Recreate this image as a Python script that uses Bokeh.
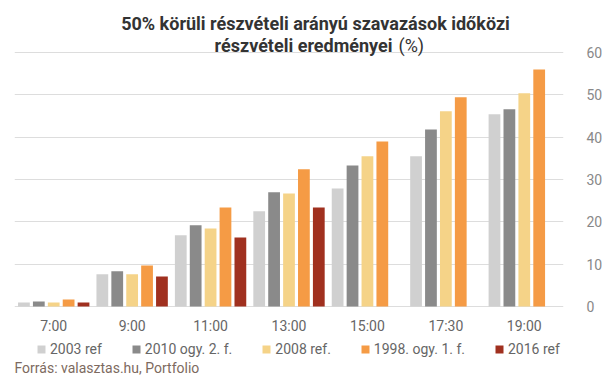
from bokeh.plotting import figure
from bokeh.models import (ColumnDataSource, FactorRange, Legend, LegendItem, Label,
                          LinearAxis, FixedTicker)
from bokeh.transform import dodge
from bokeh.embed import file_html
from bokeh.resources import INLINE

categories = ["7:00", "9:00", "11:00", "13:00", "15:00", "17:30", "19:00"]
ref2003 = [0.95, 7.6, 16.8, 22.5, 27.9, 35.5, 45.4]
ogy2010 = [1.2, 8.3, 19.2, 27.0, 33.3, 41.8, 46.6]
ref2008 = [0.95, 7.6, 18.4, 26.7, 35.5, 46.1, 50.4]
ogy1998 = [1.65, 9.7, 23.4, 32.4, 39.0, 49.4, 56.0]
cats2016 = ["7:00", "9:00", "11:00", "13:00"]
ref2016 = [0.95, 7.1, 16.3, 23.4]
y_ticks = [0, 10, 20, 30, 40, 50, 60]

series_names = ["2003 ref", "2010 ogy. 2. f.", "2008 ref.", "1998. ogy. 1. f.", "2016 ref"]
colors = ["#d0d0d0", "#8a8a8a", "#f5d388", "#f59b45", "#a0301f"]
title_line1 = "50% körüli részvételi arányú szavazások időközi"
title_line2 = "részvételi eredményei"
title_unit = "(%)"
source_text = "Forrás: valasztas.hu, Portfolio"

FONT = "Roboto"

# the plot frame covers the full canvas height; titles, legend and source live inside it
p = figure(x_range=FactorRange(*categories), y_range=(-17.01, 72.28),
           width=605, height=378, output_backend="svg", toolbar_location=None,
           min_border_left=14, min_border_right=40, min_border_top=0, min_border_bottom=0)
p.outline_line_color = None
p.background_fill_color = "white"
p.border_fill_color = "white"
p.title.visible = False

src = ColumnDataSource(dict(cat=categories, a=ref2003, b=ogy2010, c=ref2008, d=ogy1998))
src16 = ColumnDataSource(dict(cat=cats2016, e=ref2016))

pitch = 0.19
bw = 0.15
renderers = []
for i, col in enumerate(["a", "b", "c", "d"]):
    r = p.vbar(x=dodge("cat", (i - 2) * pitch, range=p.x_range), top=col, width=bw,
               source=src, color=colors[i], line_color=None)
    renderers.append(r)
r = p.vbar(x=dodge("cat", 2 * pitch, range=p.x_range), top="e", width=bw,
           source=src16, color=colors[4], line_color=None)
renderers.append(r)

# axes
p.yaxis.visible = False
p.xaxis.fixed_location = 0
p.xaxis.axis_line_color = None
p.xaxis.major_tick_line_color = None
p.xaxis.minor_tick_line_color = None
p.xaxis.major_label_text_font = FONT
p.xaxis.major_label_text_font_size = "14px"
p.xaxis.major_label_text_color = "#666666"
p.xaxis.major_label_standoff = 6

yax = LinearAxis(ticker=FixedTicker(ticks=y_ticks))
yax.axis_line_color = None
yax.major_tick_line_color = None
yax.minor_tick_line_color = None
yax.major_label_text_font = FONT
yax.major_label_text_font_size = "14px"
yax.major_label_text_color = "#888888"
yax.major_label_standoff = 17
p.add_layout(yax, "right")

p.xgrid.grid_line_color = None
p.ygrid.ticker = FixedTicker(ticks=y_ticks)
p.ygrid.grid_line_color = "#dddddd"
p.ygrid.grid_line_width = 1

legend = Legend(items=[LegendItem(label=n, renderers=[rr]) for n, rr in zip(series_names, renderers)],
                orientation="horizontal", location=(22, 21))
legend.label_text_font = FONT
legend.label_text_font_size = "14px"
legend.label_text_color = "#666666"
legend.glyph_width = 10
legend.glyph_height = 10
legend.label_height = 16
legend.label_standoff = 4
legend.spacing = 29
legend.padding = 0
legend.margin = 0
legend.border_line_color = None
legend.background_fill_alpha = 0
p.add_layout(legend, "center")

title_kw = dict(x_units="screen", y_units="screen", text_font=FONT, text_font_size="18px",
                text_color="#333333", text_baseline="alphabetic")
p.add_layout(Label(x=301, y=355, text=title_line1, text_align="center",
                   text_font_style="bold", **title_kw))
p.add_layout(Label(x=378, y=333, text=title_line2, text_align="right",
                   text_font_style="bold", **title_kw))
p.add_layout(Label(x=384, y=333, text=title_unit, text_align="left",
                   text_font_style="normal", **title_kw))

p.add_layout(Label(x=0, y=11, x_units="screen", y_units="screen", text=source_text,
                   text_font=FONT, text_font_size="14px", text_color="#7d6a60",
                   text_align="left", text_baseline="alphabetic"))

open("out.html", "w").write(file_html(p, INLINE))
